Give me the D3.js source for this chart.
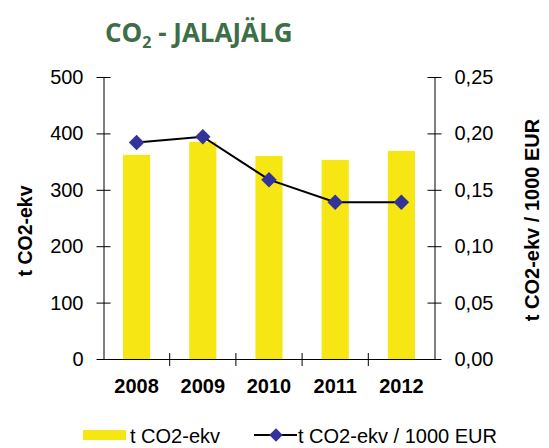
<!DOCTYPE html>
<html>
<head>
<meta charset="utf-8">
<script src="https://cdn.jsdelivr.net/npm/d3@7"></script>
<style>
  body { margin: 0; background: #fff; }
  svg { display: block; }
</style>
</head>
<body>
<div class="canvas"></div>
<script>
const years = ["2008", "2009", "2010", "2011", "2012"];
const tonnes = [362, 385, 360, 353, 369];
const perEur = [0.192, 0.197, 0.159, 0.139, 0.139];
const leftTicks = [0, 100, 200, 300, 400, 500];
const rightTicks = [0, 0.05, 0.1, 0.15, 0.2, 0.25];

const W = 549, H = 448;
const m = { left: 103.5, right: 434.5, top: 77, bottom: 359 };

const svg = d3.select(".canvas").append("svg")
  .attr("width", W).attr("height", H);

let x = d3.scaleBand().domain(years).range([m.left, m.right]);
let yL = d3.scaleLinear().domain([0, 500]).range([m.bottom, m.top]);
let yR = d3.scaleLinear().domain([0, 0.25]).range([m.bottom, m.top]);

// title
let title = svg.append("text")
  .attr("x", 105).attr("y", 42)
  .attr("font-family", "Open Sans, sans-serif")
  .attr("font-weight", "bold")
  .attr("font-size", 26)
  .attr("fill", "#3e6e46");
title.append("tspan").text("CO");
title.append("tspan").attr("font-size", 16).attr("dy", 6).text("2");
title.append("tspan").attr("dy", -6).text(" - JALAJÄLG");

// bars
let bw = x.bandwidth() * 0.41;
svg.selectAll("rect.bar").data(tonnes).enter().append("rect")
  .attr("class", "bar")
  .attr("x", (d, i) => x(years[i]) + (x.bandwidth() - bw) / 2)
  .attr("width", bw)
  .attr("y", d => yL(d))
  .attr("height", d => yL(0) - yL(d))
  .attr("fill", "#f5e614");

// axes
const font = "Liberation Sans, Arial, sans-serif";
let axL = svg.append("g").attr("transform", `translate(${m.left},0)`)
  .call(d3.axisLeft(yL).tickValues(leftTicks).tickSize(6).tickPadding(14).tickFormat(d3.format("d")));
let axR = svg.append("g").attr("transform", `translate(${m.right},0)`)
  .call(d3.axisRight(yR).tickValues(rightTicks).tickSize(6).tickPadding(14)
    .tickFormat(d => d3.format(".2f")(d).replace(".", ",")));
[axL, axR].forEach(a => {
  a.select(".domain").attr("stroke", "#000");
  a.selectAll(".tick line").attr("x1", -7).attr("x2", 7).attr("stroke", "#000");
  a.selectAll("text").attr("font-family", font).attr("font-size", 20).attr("fill", "#000");
});

let axX = svg.append("g").attr("transform", `translate(0,${m.bottom})`)
  .call(d3.axisBottom(x).tickSize(0).tickPadding(20));
axX.select(".domain").attr("stroke", "#000");
axX.selectAll("text").attr("font-family", font).attr("font-weight", "bold")
  .attr("font-size", 20).attr("fill", "#000");
// category boundary ticks
axX.selectAll("line.sep").data(years.slice(1)).enter().append("line")
  .attr("class", "sep")
  .attr("x1", d => x(d)).attr("x2", d => x(d))
  .attr("y1", -6).attr("y2", 7).attr("stroke", "#000");

// axis titles
svg.append("text")
  .attr("transform", `translate(32,231) rotate(-90)`)
  .attr("text-anchor", "middle")
  .attr("font-family", font).attr("font-weight", "bold").attr("font-size", 19.5)
  .text("t CO2-ekv");
svg.append("text")
  .attr("transform", `translate(539,220) rotate(-90)`)
  .attr("text-anchor", "middle")
  .attr("font-family", font).attr("font-weight", "bold").attr("font-size", 20)
  .text("t CO2-ekv / 1000 EUR");

// line
let cx = (d, i) => x(years[i]) + x.bandwidth() / 2;
svg.append("path").datum(perEur)
  .attr("fill", "none").attr("stroke", "#000").attr("stroke-width", 2)
  .attr("d", d3.line().x(cx).y(d => yR(d)));
svg.selectAll("path.pt").data(perEur).enter().append("path")
  .attr("class", "pt")
  .attr("transform", (d, i) => `translate(${cx(d, i)},${yR(d)}) rotate(45)`)
  .attr("d", d3.symbol(d3.symbolSquare, 120)())
  .attr("fill", "#333399");

// legend (nudged up a little so the text is not clipped)
let lg = svg.append("g");
lg.append("rect").attr("x", 83).attr("y", 430).attr("width", 43).attr("height", 10).attr("fill", "#f5e614");
lg.append("text").attr("x", 130).attr("y", 443)
  .attr("font-family", font).attr("font-size", 20).text("t CO2-ekv");
lg.append("line").attr("x1", 254).attr("x2", 297).attr("y1", 435).attr("y2", 435)
  .attr("stroke", "#000").attr("stroke-width", 2);
lg.append("path").attr("transform", "translate(276,435) rotate(45)")
  .attr("d", d3.symbol(d3.symbolSquare, 90)()).attr("fill", "#333399");
lg.append("text").attr("x", 298).attr("y", 443)
  .attr("font-family", font).attr("font-size", 20).text("t CO2-ekv / 1000 EUR");
</script>
</body>
</html>
